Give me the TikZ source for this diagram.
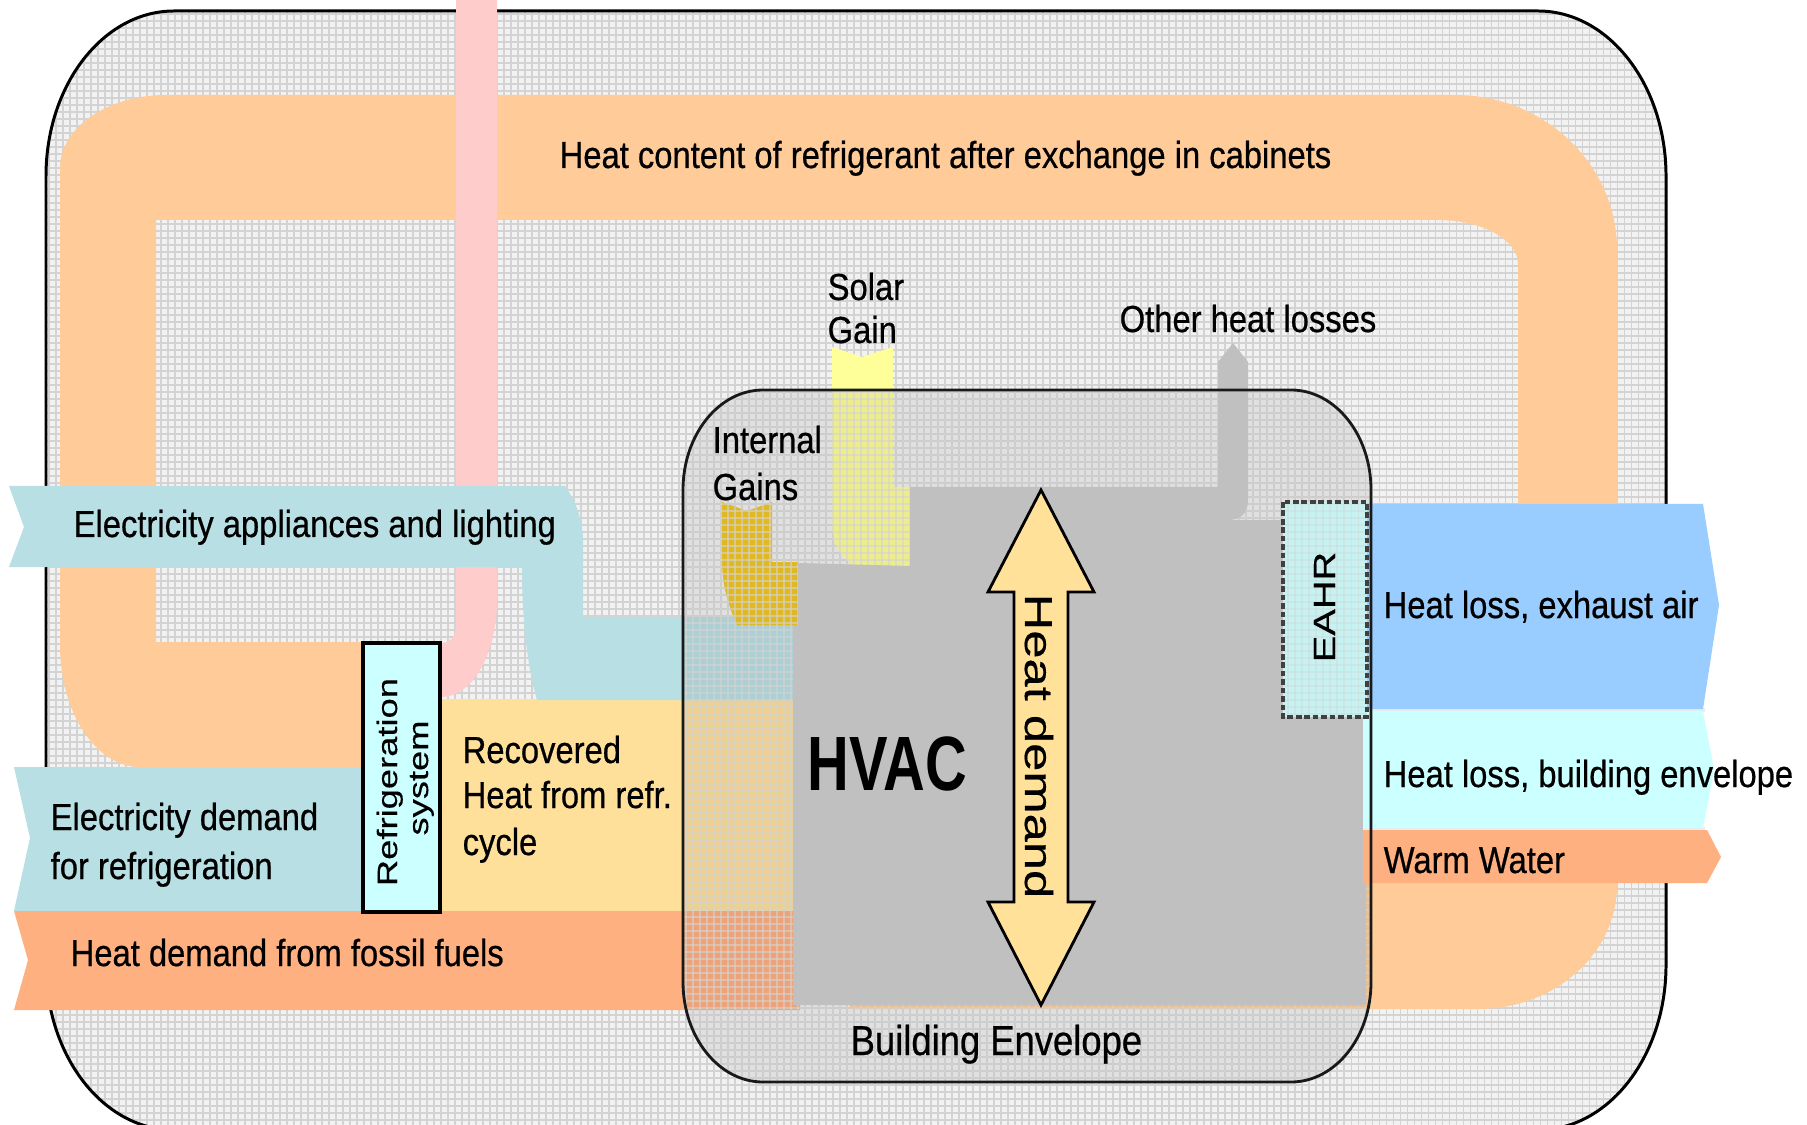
\documentclass[tikz,border=0pt]{standalone}
\usepackage{fontspec}
\setmainfont{Liberation Sans}
\newfontfamily\nf{Liberation Sans}[FakeStretch=0.87,FakeBold=0.6]
\newfontfamily\hf{Liberation Sans}[FakeStretch=0.75]
\newfontfamily\rf{Liberation Sans}[FakeStretch=1.3,FakeBold=0.3]
\definecolor{peach}{HTML}{FFCC99}
\definecolor{pinkc}{HTML}{FFCCCC}
\definecolor{lblue}{HTML}{B8DFE3}
\definecolor{ryell}{HTML}{FFE09B}
\definecolor{salmon}{HTML}{FFB081}
\definecolor{solar}{HTML}{FFFF99}
\definecolor{igain}{HTML}{F2C724}
\definecolor{hvac}{HTML}{C0C0C0}
\definecolor{exblue}{HTML}{99CCFF}
\definecolor{cyanc}{HTML}{CCFFFF}
\definecolor{arrowy}{HTML}{FFE199}
\definecolor{bggray}{HTML}{F2F2F2}
\definecolor{gridc}{HTML}{D3D3D3}
\definecolor{eahrc}{HTML}{C6F2F2}
\definecolor{sepc}{HTML}{E4EEF2}
\newcommand\mygrid[1]{%
  \draw[gridc,line width=0.3pt,opacity=#1] foreach \gx in {0,7,...,1813} {(\gx,0) -- (\gx,1130)};
  \draw[gridc,line width=0.3pt,opacity=#1] foreach \gy in {0,7,...,1127} {(0,\gy) -- (1810,\gy)};
}
\def\outerpath{(174,11) -- (1538,11) .. controls (1608.7,11) and (1666,84.9) .. (1666,176) -- (1666,965) .. controls (1666,1056.1) and (1608.7,1130) .. (1538,1130) -- (174,1130) .. controls (103.3,1130) and (46,1056.1) .. (46,965) -- (46,176) .. controls (46,84.9) and (103.3,11) .. (174,11) -- cycle}
\def\envpath{(763,390) -- (1291,390) .. controls (1335.2,390) and (1371,434.8) .. (1371,490) -- (1371,982) .. controls (1371,1037.2) and (1335.2,1082) .. (1291,1082) -- (763,1082) .. controls (718.8,1082) and (683,1037.2) .. (683,982) -- (683,490) .. controls (683,434.8) and (718.8,390) .. (763,390) -- cycle}
\tikzset{
  lbl/.style={font=\nf\fontsize{10.7}{13}\selectfont, inner sep=0pt, anchor=base west},
  rot/.style={inner sep=0pt, anchor=base}
}
\begin{document}
\begin{tikzpicture}[x=0.01cm,y=-0.01cm]
\useasboundingbox (0,0) rectangle (1807,1125);
\clip (0,0) rectangle (1807,1125);
\fill[white] (0,0) rectangle (1807,1125);
% outer background
\begin{scope}
  \clip \outerpath;
  \fill[bggray] (0,0) rectangle (1807,1130);
  \mygrid{1}
\end{scope}
\draw[black, line width=0.85pt] \outerpath;
% peach loop
\fill[peach] (365,767) -- (140,767) .. controls (95.8,767) and (60,712.4) .. (60,645) -- (60,168) .. controls (60,127.7) and (107.5,95) .. (166,95) -- (1455,95) .. controls (1544.5,95) and (1617,164.4) .. (1617,250) -- (1617,885) .. controls (1617,953.5) and (1554.8,1009) .. (1478,1009) -- (850,1009) -- (850,883) -- (1518,883) -- (1518,264) .. controls (1518,239.7) and (1482.2,220) .. (1438,220) -- (156,220) -- (156,642) -- (365,642) -- cycle;
% pink
\fill[pinkc] (456,-5) -- (456,625) .. controls (456,637) and (450,643) .. (441,643) -- (441,697) .. controls (473,697) and (497,653) .. (497,600) -- (497,-5) -- cycle;
% left bands
\fill[ryell] (441,699) -- (800,699) -- (800,911) -- (441,911) -- cycle;
\fill[lblue] (9,486) -- (565,486) .. controls (575,500) and (583,520) .. (583,540) -- (583,617) -- (800,617) -- (800,700) -- (537,700) .. controls (527,665) and (522,620) .. (522,567) -- (9,567) -- (24,527) -- cycle;
\fill[lblue] (14,767) -- (365,767) -- (365,911) -- (14,911) -- (30,838) -- cycle;
\fill[salmon] (14,911) -- (800,911) -- (800,1010) -- (14,1010) -- (28,960) -- cycle;
% solar and internal gains
\fill[solar] (832,347) -- (862,357) -- (893,347) -- (893,487) -- (910,487) -- (910,566) -- (858,568) .. controls (842,560) and (832,545) .. (832,525) -- cycle;
\fill[igain] (722,502) -- (747,511) -- (772,502) -- (772,562) -- (798,562) -- (798,625) -- (737,625) .. controls (728,605) and (722,585) .. (722,560) -- cycle;
% envelope overlay
\begin{scope}
  \clip \envpath;
  \fill[black, opacity=0.07] (600,380) rectangle (1400,1100);
  \mygrid{0.6}
\end{scope}
% HVAC gray
\fill[hvac] (798,563) -- (910,566) -- (910,487) -- (1218,487) -- (1218,362) -- (1233,343) -- (1248,362) -- (1248,500) .. controls (1248,514) and (1240,520) .. (1228,520) -- (1366,520) -- (1366,1005) -- (793,1005) -- (793,625) -- (798,625) -- cycle;
% right bands
\fill[sepc] (1367,708) rectangle (1705,712);
\fill[sepc] (1363,827) rectangle (1705,831);
\fill[exblue] (1367,504) -- (1703,504) -- (1719,605) -- (1703,709) -- (1367,709) -- cycle;
\fill[cyanc] (1363,711) -- (1703,711) -- (1714,770) -- (1703,828) -- (1363,828) -- cycle;
\fill[salmon] (1363,830) -- (1707,830) -- (1721,857) -- (1707,883) -- (1363,883) -- cycle;
% EAHR box
\fill[eahrc] (1283,502) rectangle (1367,717);
\begin{scope}
  \clip (1283,502) rectangle (1367,717);
  \mygrid{0.35}
\end{scope}
\draw[black!75, line width=1.3pt, dash pattern=on 1.6pt off 0.8pt] (1283,502) rectangle (1367,717);
% envelope border
\draw[black!90, line width=0.8pt] \envpath;
% heat demand double arrow
\filldraw[fill=arrowy, draw=black, line width=0.8pt] (1041,490) -- (1094,592) -- (1068,592) -- (1068,902) -- (1094,902) -- (1041,1005) -- (988,902) -- (1014,902) -- (1014,592) -- (988,592) -- cycle;
% refrigeration system box
\filldraw[fill=cyanc, draw=black, line width=1.1pt] (363,643) rectangle (440,912);
% texts
\node[lbl] (hc) at (559,168) {Heat content of refrigerant after exchange in cabinets};
\node[lbl] (sg1) at (827,300) {Solar};
\node[lbl] (sg2) at (827,343) {Gain};
\node[lbl] (ohl) at (1119,332) {Other heat losses};
\node[lbl] (ig1) at (712,453) {Internal};
\node[lbl] (ig2) at (712,500) {Gains};
\node[lbl] (eal) at (73,537) {Electricity appliances and lighting};
\node[lbl] (edr1) at (50,830) {Electricity demand};
\node[lbl] (edr2) at (50,879) {for refrigeration};
\node[lbl] (rh1) at (462,763) {Recovered};
\node[lbl] (rh2) at (462,808) {Heat from refr.};
\node[lbl] (rh3) at (462,855) {cycle};
\node[lbl] (hff) at (70,966) {Heat demand from fossil fuels};
\node[lbl] (hle) at (1383,618) {Heat loss, exhaust air};
\node[lbl] (hlb) at (1383,787) {Heat loss, building envelope};
\node[lbl] (ww) at (1383,873) {Warm Water};
\node[lbl, font=\nf\fontsize{11.9}{14}\selectfont] (be) at (850,1055) {Building Envelope};
\node[inner sep=0pt, anchor=base west, font=\hf\bfseries\fontsize{21.9}{24}\selectfont] (hvactxt) at (807,790) {HVAC};
\node[rot, font=\rf\fontsize{11.1}{13}\selectfont, rotate=-90] (hd) at (1025,746) {Heat demand};
\node[rot, font=\rf\fontsize{8.7}{10}\selectfont, rotate=90] (eahr) at (1335,607) {EAHR};
\node[rot, font=\rf\fontsize{7.95}{9}\selectfont, rotate=90] (rs1) at (397,782) {Refrigeration};
\node[rot, font=\rf\fontsize{7.95}{9}\selectfont, rotate=90] (rs2) at (428,778) {system};
\end{tikzpicture}
\end{document}
